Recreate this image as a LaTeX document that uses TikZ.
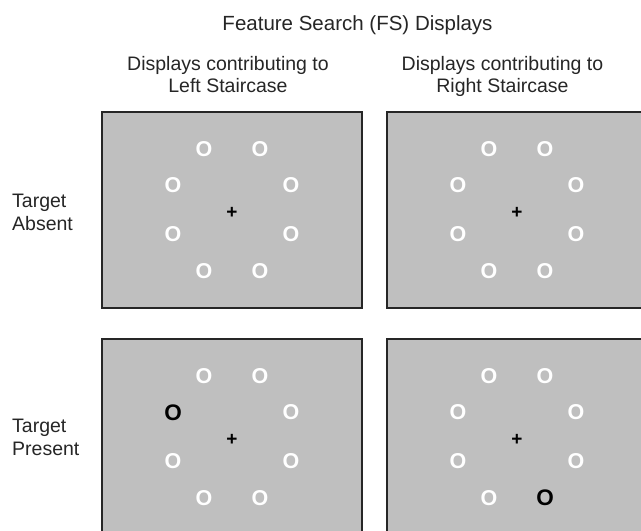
\documentclass[tikz,border=0pt]{standalone}
\usepackage{fontspec}
\setmainfont{Liberation Sans}
\definecolor{panelgray}{RGB}{191,191,191}
\definecolor{edgegray}{RGB}{38,38,38}
\newcommand\ringset[2]{%
  \foreach \dx/\dy [count=\i] in {-28/-61,28/-61,-59/-24.5,59/-24.5,-59/24.5,59/24.5,-28/61,28/61}{%
    \ifnum\i=#2\relax
      \node[targ] (#1-\i) at (\dx,\dy) {O};
    \else
      \node[dist] (#1-\i) at (\dx,\dy) {O};
    \fi
  }%
}
\begin{document}
\begin{tikzpicture}[x=1pt,y=-1pt,
  panel/.style={draw=edgegray, line width=1.6pt, fill=panelgray, minimum width=260pt, minimum height=196pt, inner sep=0pt},
  dist/.style={text=white, font=\fontsize{21.5}{20}\selectfont\bfseries, inner sep=0pt},
  targ/.style={text=black, font=\fontsize{22.5}{20}\selectfont\bfseries, inner sep=0pt},
  fix/.style={text=black, font=\fontsize{19}{18}\selectfont\bfseries, inner sep=0pt},
  rowlbl/.style={font=\fontsize{19.5}{22}\selectfont, anchor=base west, inner sep=0pt, text=black!85},
  head/.style={font=\fontsize{19.5}{22}\selectfont, anchor=base, inner sep=0pt, text=black!85},
  ttl/.style={font=\fontsize{20.5}{24}\selectfont, anchor=base, inner sep=0pt, text=black!85}]
\clip (0,0) rectangle (641,531);
\fill[white] (0,0) rectangle (641,531);
% headings
\node[ttl] (title) at (357.5,30) {Feature Search (FS) Displays};
\node[head] (hl1) at (228,70) {Displays contributing to};
\node[head] (hl2) at (228,92.5) {Left Staircase};
\node[head] (hr1) at (502.5,70) {Displays contributing to};
\node[head] (hr2) at (502.5,92.5) {Right Staircase};
% row labels
\node[rowlbl] (ra1) at (12,207) {Target};
\node[rowlbl] (ra2) at (12,230) {Absent};
\node[rowlbl] (rp1) at (12,432) {Target};
\node[rowlbl] (rp2) at (12,455) {Present};
% panels
\node[panel] (p11) at (232,210) {};
\node[panel] (p12) at (517,210) {};
\node[panel] (p21) at (232,437) {};
\node[panel] (p22) at (517,437) {};
% displays
\begin{scope}[shift={(232,210)}]
  \node[fix] (f11) at (0,3) {+};
  \ringset{a}{0}
\end{scope}
\begin{scope}[shift={(517,210)}]
  \node[fix] (f12) at (0,3) {+};
  \ringset{b}{0}
\end{scope}
\begin{scope}[shift={(232,437)}]
  \node[fix] (f21) at (0,3) {+};
  \ringset{c}{3}
\end{scope}
\begin{scope}[shift={(517,437)}]
  \node[fix] (f22) at (0,3) {+};
  \ringset{d}{8}
\end{scope}
\end{tikzpicture}
\end{document}
